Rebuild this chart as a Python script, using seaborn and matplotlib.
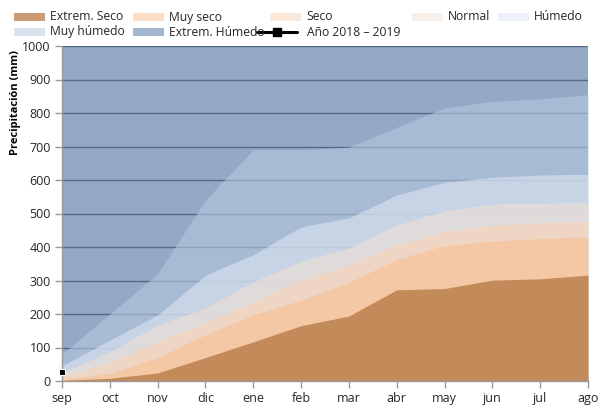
import matplotlib
matplotlib.use("Agg")
import matplotlib.pyplot as plt
from matplotlib.patches import Rectangle
from matplotlib.lines import Line2D
import seaborn as sns
import pandas as pd

# datos (mm acumulados, límite superior de cada clase)
meses = ['sep', 'oct', 'nov', 'dic', 'ene', 'feb', 'mar', 'abr', 'may', 'jun', 'jul', 'ago']
extrem_seco = [2, 8, 24, 70, 117, 165, 194, 272, 276, 301, 305, 316]
muy_seco = [5, 22, 70, 138, 197, 242, 294, 363, 404, 418, 425, 430]
seco = [12, 54, 116, 173, 236, 301, 346, 406, 445, 465, 472, 477]
normal = [25, 87, 167, 218, 296, 358, 397, 466, 508, 528, 531, 533]
humedo = [45, 122, 197, 316, 377, 460, 487, 555, 593, 608, 615, 617]
muy_humedo = [80, 200, 320, 540, 690, 690, 698, 757, 815, 835, 842, 855]
extrem_humedo = [1000] * 12
anio_meses = ['sep']
anio_valores = [28]

nombres = ['Extrem. Seco', 'Muy seco', 'Seco', 'Normal', 'Húmedo', 'Muy húmedo', 'Extrem. Húmedo']
series = [extrem_seco, muy_seco, seco, normal, humedo, muy_humedo, extrem_humedo]
colores = ['#c38a5a', '#f8bf92', '#fbd2b4', '#f1e1d5', '#dbe6f2', '#b6c8e1', '#4e709e']
alfas = [1.0, 0.6, 0.6, 0.6, 0.6, 0.6, 0.6]

sns.set_theme(style="white")
plt.rcParams['font.family'] = ['Open Sans', 'DejaVu Sans']

fig = plt.figure(figsize=(6.1, 4.08), dpi=100)
ax = fig.add_axes([62 / 610, 1 - 381 / 408, 526 / 610, 335 / 408])

x = list(range(len(meses)))
# áreas superpuestas, de la mayor a la menor
for nombre, vals, col, a in reversed(list(zip(nombres, series, colores, alfas))):
    ax.fill_between(x, 0, vals, color=col, alpha=a, lw=0, zorder=2)

df_anio = pd.DataFrame({'x': [meses.index(m) for m in anio_meses], 'y': anio_valores})
sns.lineplot(data=df_anio, x='x', y='y', ax=ax, color='black', marker='s',
             markersize=4.5, lw=2, clip_on=False, zorder=5)

ax.set_xlim(0, 11)
ax.set_ylim(0, 1000)
ax.set_xticks(x)
ax.set_xticklabels(meses)
ax.set_yticks(range(0, 1001, 100))
ax.yaxis.grid(True, color='#5f5f5f', lw=1)
ax.set_axisbelow(True)
ax.tick_params(axis='both', direction='out', length=5, width=1, color='#9a9a9a',
               labelsize=9, labelcolor='#262626', pad=3, left=True, bottom=True)
for s in ['top', 'right']:
    ax.spines[s].set_visible(False)
for s in ['left', 'bottom']:
    ax.spines[s].set_color('#9a9a9a')
    ax.spines[s].set_linewidth(1)
ax.set_xlabel('')
ax.set_ylabel('Precipitación (mm)', fontsize=8, fontweight='bold', color='black')
ax.yaxis.set_label_coords(-0.078, 0.83)

# leyenda manual en coordenadas de píxel
def px(xp, yp):
    return xp / 610, 1 - yp / 408

filas = [[(14, 0), (133, 1), (270, 2), (412, 3), (498, 4)],
         [(14, 5), (133, 6)]]
for fila, yc in zip(filas, [17, 32]):
    for xp, i in fila:
        x0, y0 = px(xp, yc + 4)
        fig.patches.append(Rectangle((x0, y0), 31 / 610, 8 / 408, transform=fig.transFigure,
                                     facecolor=colores[i], alpha=alfas[i] * 0.85, lw=0))
        fig.text(*px(xp + 36, yc), nombres[i], fontsize=8.7, va='center', ha='left', color='#262626')
lx0, ly = px(257, 32)
lx1, _ = px(297, 32)
fig.lines.append(Line2D([lx0, lx1], [ly, ly], transform=fig.transFigure, color='black', lw=2.2))
fig.lines.append(Line2D([(lx0 + lx1) / 2], [ly], transform=fig.transFigure, color='black',
                        marker='s', markersize=6))
fig.text(*px(307, 32), 'Año 2018 – 2019', fontsize=8.7, va='center', ha='left', color='#262626')

fig.savefig('out.png', dpi=100)
